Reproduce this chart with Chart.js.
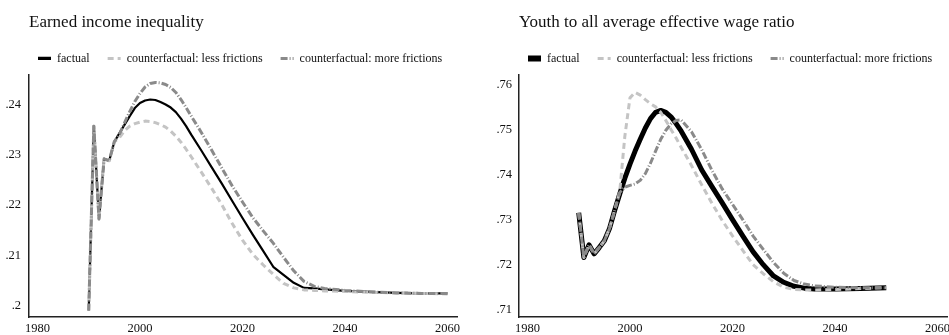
<!DOCTYPE html>
<html>
<head>
<meta charset="utf-8">
<title>Frictions counterfactuals</title>
<script src="https://cdn.jsdelivr.net/npm/chart.js@4.4.1/dist/chart.umd.min.js"></script>
<style>
  html, body { margin: 0; padding: 0; background: #fff; overflow: hidden; }
  #wrap { position: relative; width: 949px; height: 335px; overflow: hidden; }
  #wrap canvas { position: absolute; top: 0; }
  #chartLeft { left: 0; }
  #chartRight { left: 474px; }
</style>
</head>
<body>
<div id="wrap">
  <canvas id="chartLeft" width="474" height="335"></canvas>
  <canvas id="chartRight" width="488" height="335"></canvas>
</div>
<script>
// model years (annual through 2010, then sparser)
const years = [1990, 1991, 1992, 1993, 1994, 1995, 1996, 1997, 1998, 1999, 2000,
  2001, 2002, 2003, 2004, 2005, 2006, 2007, 2008, 2009, 2010,
  2012, 2014, 2016, 2018, 2020, 2022, 2024, 2026, 2028, 2030, 2032, 2034, 2036,
  2040, 2045, 2050, 2055, 2060]

const xTicks = [1980, 2000, 2020, 2040, 2060]
const seriesNames = ['factual', 'counterfactual: less frictions', 'counterfactual: more frictions']

// earned income inequality
const inequalityFactual = [.1990, .2357, .2172, .2292, .2288, .2326, .2343, .2360, .2377, .2393, .2403,
  .2408, .2410, .2409, .2405, .2400, .2394, .2385, .2372, .2357, .2340,
  .2308, .2275, .2242, .2208, .2174, .2141, .2109, .2077, .2061, .2045, .2035, .2034, .2032,
  .2029, .2027, .2025, .2024, .2024]
const inequalityLess = [.1990, .2357, .2172, .2292, .2288, .2326, .2334, .2348, .2357, .2362, .2365,
  .2367, .2366, .2364, .2360, .2355, .2347, .2337, .2325, .2311, .2296,
  .2265, .2233, .2200, .2163, .2130, .2102, .2081, .2062, .2044, .2035, .2031, .2030, .2029,
  .2028, .2026, .2025, .2024, .2023]
const inequalityMore = [.1990, .2357, .2172, .2292, .2288, .2326, .2341, .2364, .2386, .2406, .2422,
  .2435, .2442, .2444, .2443, .2440, .2434, .2424, .2410, .2394, .2377,
  .2344, .2309, .2273, .2238, .2206, .2175, .2149, .2124, .2096, .2069, .2048, .2038, .2034,
  .2030, .2027, .2025, .2024, .2024]
const inequalityTicks = [0.20, 0.21, 0.22, 0.23, 0.24]

// youth to all average effective wage ratio (runs to 2050)
const wageFactual = [.7315, .7216, .7244, .7224, .7238, .7253, .7280, .7320, .7357, .7392, .7423,
  .7452, .7478, .7503, .7524, .7538, .7542, .7538, .7528, .7513, .7496,
  .7456, .7410, .7373, .7337, .7300, .7264, .7229, .7200, .7175, .7161, .7152, .7148, .7146,
  .7146, .7147, .7149]
const wageLess = [.7315, .7216, .7244, .7224, .7238, .7253, .7280, .7320, .7362, .7485, .7570,
  .7582, .7576, .7566, .7557, .7550, .7538, .7520, .7500, .7481, .7460,
  .7420, .7377, .7336, .7298, .7264, .7232, .7200, .7180, .7162, .7150, .7145, .7144, .7144,
  .7145, .7147, .7149]
const wageMore = [.7315, .7216, .7244, .7224, .7238, .7253, .7280, .7320, .7360, .7372, .7376,
  .7379, .7387, .7402, .7425, .7452, .7478, .7498, .7512, .7520, .7521,
  .7495, .7455, .7409, .7368, .7334, .7300, .7264, .7234, .7205, .7181, .7165, .7157, .7153,
  .7150, .7149, .7149]
const wageTicks = [0.71, 0.72, 0.73, 0.74, 0.75, 0.76]

const serif = 'Liberation Serif'
const ink = '#111'
const lightGrey = '#c4c4c4'
const darkGrey = '#8a8a8a'

function toPoints(values) {
    return values.map((v, i) => ({ x: years[i], y: v }))
}

function stataTick(v) {
    return String(+v.toFixed(2)).replace(/^0\./, '.')
}

// legend sits a few px right of the y axis, like the plot region
const legendNudge = {
    id: 'legendNudge',
    afterLayout(chart) {
        const lg = chart.legend
        const dx = chart.chartArea.left + 9 - lg.options.labels.padding - lg.left
        lg.left += dx
        lg.right += dx
    }
}

function makeChart(id, title, values, yTicks, yMin, yMax, axisWidth, rightPad, factualWidth) {
    const styles = [
        { color: '#000', width: factualWidth, dash: [], legendWidth: factualWidth + 1, order: 3 },
        { color: lightGrey, width: 3, dash: [6, 4], legendWidth: 3, order: 2 },
        { color: darkGrey, width: 3, dash: [7, 2, 1, 2], legendWidth: 3, order: 1 }
    ]

    return new Chart(document.getElementById(id), {
        type: 'line',
        data: {
            datasets: values.map((vals, i) => ({
                label: seriesNames[i],
                data: toPoints(vals),
                borderColor: styles[i].color,
                backgroundColor: styles[i].color,
                borderWidth: styles[i].width,
                borderDash: styles[i].dash,
                legendWidth: styles[i].legendWidth,
                borderJoinStyle: 'round',
                pointRadius: 0,
                tension: 0,
                fill: false,
                order: styles[i].order
            }))
        },
        options: {
            responsive: false,
            animation: false,
            layout: { padding: { right: rightPad } },
            plugins: {
                tooltip: { enabled: false },
                title: {
                    display: true,
                    text: title,
                    align: 'start',
                    fullSize: false,
                    color: ink,
                    font: { family: serif, size: 17, weight: 'normal' },
                    padding: { top: 12, bottom: 2 }
                },
                legend: {
                    display: true,
                    position: 'top',
                    align: 'start',
                    fullSize: true,
                    labels: {
                        color: ink,
                        font: { family: serif, size: 12 },
                        padding: 18,
                        usePointStyle: true,
                        pointStyle: 'line',
                        pointStyleWidth: 13,
                        boxHeight: 12,
                        generateLabels: chart => chart.data.datasets.map((ds, i) => ({
                            text: ds.label,
                            fontColor: ink,
                            strokeStyle: ds.borderColor,
                            fillStyle: ds.borderColor,
                            lineWidth: ds.legendWidth,
                            lineDash: ds.borderDash,
                            lineCap: 'butt',
                            pointStyle: 'line',
                            hidden: false,
                            datasetIndex: i
                        }))
                    }
                }
            },
            scales: {
                x: {
                    type: 'linear',
                    min: 1978.35,
                    max: 2061.85,
                    grid: { display: false, drawTicks: false },
                    border: { display: true, color: '#222', width: 1.5 },
                    ticks: {
                        color: ink,
                        font: { family: serif, size: 12.5 },
                        padding: 4,
                        maxRotation: 0,
                        callback: v => String(v)
                    },
                    afterBuildTicks: s => { s.ticks = xTicks.map(v => ({ value: v })) },
                    afterFit: s => { s.height = 18 }
                },
                y: {
                    type: 'linear',
                    min: yMin,
                    max: yMax,
                    grid: { display: false, drawTicks: false },
                    border: { display: true, color: '#222', width: 1.5 },
                    ticks: {
                        color: ink,
                        font: { family: serif, size: 12.5 },
                        padding: axisWidth > 40 ? 7 : 8,
                        callback: v => stataTick(v)
                    },
                    afterBuildTicks: s => { s.ticks = yTicks.map(v => ({ value: v })) },
                    afterFit: s => { s.width = axisWidth }
                }
            }
        },
        plugins: [legendNudge]
    })
}

makeChart('chartLeft', 'Earned income inequality',
    [inequalityFactual, inequalityLess, inequalityMore],
    inequalityTicks, 0.1977, 0.2460, 29, 17, 2.2)

makeChart('chartRight', 'Youth to all average effective wage ratio',
    [wageFactual, wageLess, wageMore],
    wageTicks, 0.7084, 0.7622, 45, 15, 5)
</script>
</body>
</html>
